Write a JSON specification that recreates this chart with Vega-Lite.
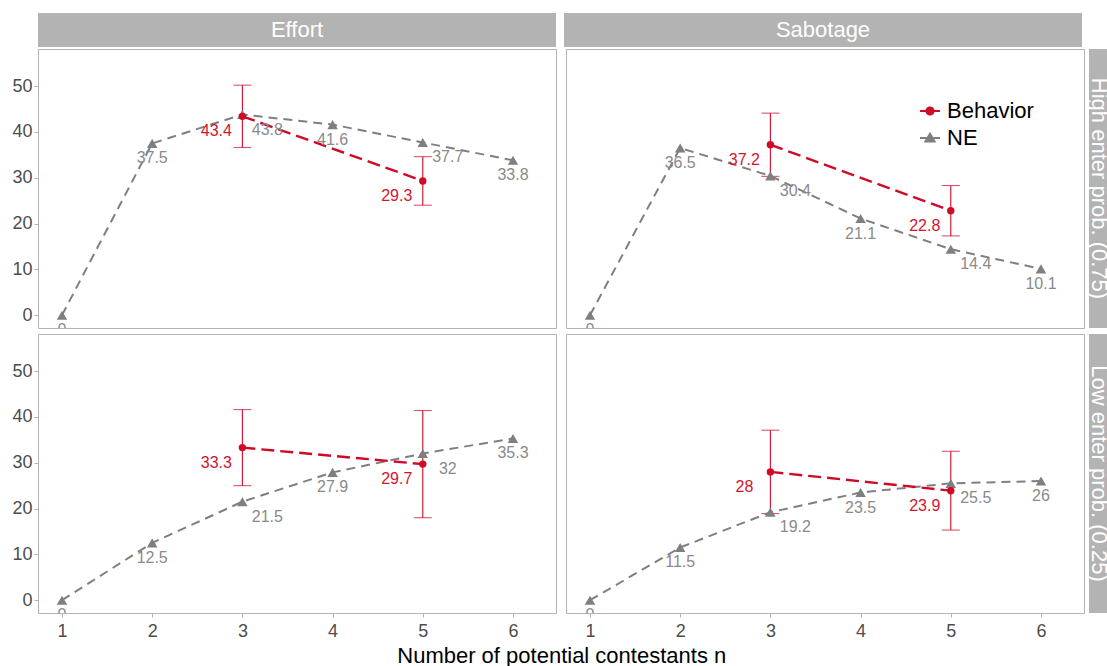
{
  "$schema": "https://vega.github.io/schema/vega-lite/v6.json",
  "padding": {"left": 11, "top": 13, "right": 0, "bottom": 0},
  "autosize": {"type": "pad"},
  "background": "white",
  "config": {
    "font": "Liberation Sans",
    "view": {"stroke": "#B3B3B3", "strokeWidth": 1},
    "axis": {"grid": false, "domain": false, "tickColor": "#B3B3B3", "tickSize": 4, "tickWidth": 1, "labelFont": "Liberation Sans", "labelFontSize": 18, "labelColor": "#4D4D4D", "labelPadding": 2},
    "axisX": {"labelPadding": 5}
  },
  "title": {"text": "Number of potential contestants n", "orient": "bottom", "anchor": "middle", "fontSize": 22, "fontWeight": "normal", "font": "Liberation Sans", "color": "black", "offset": 5},
  "datasets": {
    "pts": [
      {"stage": "Effort", "prob": "High", "series": "NE", "n": 1, "value": 0},
      {"stage": "Effort", "prob": "High", "series": "NE", "n": 2, "value": 37.5},
      {"stage": "Effort", "prob": "High", "series": "NE", "n": 3, "value": 43.8},
      {"stage": "Effort", "prob": "High", "series": "NE", "n": 4, "value": 41.6},
      {"stage": "Effort", "prob": "High", "series": "NE", "n": 5, "value": 37.7},
      {"stage": "Effort", "prob": "High", "series": "NE", "n": 6, "value": 33.8},
      {"stage": "Effort", "prob": "High", "series": "Behavior", "n": 3, "value": 43.4, "lo": 36.6, "hi": 50.2},
      {"stage": "Effort", "prob": "High", "series": "Behavior", "n": 5, "value": 29.3, "lo": 24.0, "hi": 34.6},
      {"stage": "Sabotage", "prob": "High", "series": "NE", "n": 1, "value": 0},
      {"stage": "Sabotage", "prob": "High", "series": "NE", "n": 2, "value": 36.5},
      {"stage": "Sabotage", "prob": "High", "series": "NE", "n": 3, "value": 30.4},
      {"stage": "Sabotage", "prob": "High", "series": "NE", "n": 4, "value": 21.1},
      {"stage": "Sabotage", "prob": "High", "series": "NE", "n": 5, "value": 14.4},
      {"stage": "Sabotage", "prob": "High", "series": "NE", "n": 6, "value": 10.1},
      {"stage": "Sabotage", "prob": "High", "series": "Behavior", "n": 3, "value": 37.2, "lo": 30.3, "hi": 44.1},
      {"stage": "Sabotage", "prob": "High", "series": "Behavior", "n": 5, "value": 22.8, "lo": 17.3, "hi": 28.3},
      {"stage": "Effort", "prob": "Low", "series": "NE", "n": 1, "value": 0},
      {"stage": "Effort", "prob": "Low", "series": "NE", "n": 2, "value": 12.5},
      {"stage": "Effort", "prob": "Low", "series": "NE", "n": 3, "value": 21.5},
      {"stage": "Effort", "prob": "Low", "series": "NE", "n": 4, "value": 27.9},
      {"stage": "Effort", "prob": "Low", "series": "NE", "n": 5, "value": 32},
      {"stage": "Effort", "prob": "Low", "series": "NE", "n": 6, "value": 35.3},
      {"stage": "Effort", "prob": "Low", "series": "Behavior", "n": 3, "value": 33.3, "lo": 25.0, "hi": 41.6},
      {"stage": "Effort", "prob": "Low", "series": "Behavior", "n": 5, "value": 29.7, "lo": 18.0, "hi": 41.4},
      {"stage": "Sabotage", "prob": "Low", "series": "NE", "n": 1, "value": 0},
      {"stage": "Sabotage", "prob": "Low", "series": "NE", "n": 2, "value": 11.5},
      {"stage": "Sabotage", "prob": "Low", "series": "NE", "n": 3, "value": 19.2},
      {"stage": "Sabotage", "prob": "Low", "series": "NE", "n": 4, "value": 23.5},
      {"stage": "Sabotage", "prob": "Low", "series": "NE", "n": 5, "value": 25.5},
      {"stage": "Sabotage", "prob": "Low", "series": "NE", "n": 6, "value": 26},
      {"stage": "Sabotage", "prob": "Low", "series": "Behavior", "n": 3, "value": 28, "lo": 18.9, "hi": 37.1},
      {"stage": "Sabotage", "prob": "Low", "series": "Behavior", "n": 5, "value": 23.9, "lo": 15.3, "hi": 32.5}
    ]
  },
  "data": {"name": "pts"},
  "spacing": 1,
  "vconcat": [
    {
      "spacing": 8,
      "hconcat": [
        {
          "width": 518, "height": 34,
          "view": {"fill": "#B3B3B3", "stroke": null},
          "layer": [
            {
              "data": {"values": [{"label": "Effort"}]},
              "mark": {"type": "text", "color": "white", "fontSize": 22, "font": "Liberation Sans", "align": "center", "baseline": "middle"},
              "encoding": {"text": {"field": "label", "type": "nominal"}}
            },
            {
              "data": {"values": []},
              "mark": {"type": "rule"},
              "encoding": {"y": {"field": "v", "type": "quantitative", "scale": {"domain": [0, 2]}, "title": null,
                "axis": {"values": [1], "labelExpr": "'50'", "labelColor": "transparent", "tickColor": "transparent"}}}
            }
          ]
        },
        {
          "width": 518, "height": 34,
          "view": {"fill": "#B3B3B3", "stroke": null},
          "data": {"values": [{"label": "Sabotage"}]},
          "mark": {"type": "text", "color": "white", "fontSize": 22, "font": "Liberation Sans", "align": "center", "baseline": "middle"},
          "encoding": {"text": {"field": "label", "type": "nominal"}}
        }
      ]
    },
    {
      "spacing": 4,
      "vconcat": [
        {
          "spacing": 2,
          "hconcat": [
            {
              "spacing": 8,
              "hconcat": [
                {
                  "width": 518, "height": 279,
                  "transform": [{"filter": "datum.stage == 'Effort' && datum.prob == 'High'"}],
                  "encoding": {"x": {"field": "n", "type": "quantitative", "scale": {"domain": [0.734, 6.477], "nice": false, "zero": false}, "axis": null, "title": null}},
                  "layer": [
                    {"transform": [{"filter": "datum.series == 'Behavior'"}], "mark": {"type": "rule", "color": "#CF0A26", "strokeWidth": 1.1},
                     "encoding": {"y": {"field": "lo", "type": "quantitative", "scale": {"domain": [-2.8, 58.1], "nice": false, "zero": false}, "axis": {"values": [0, 10, 20, 30, 40, 50]}, "title": null}, "y2": {"field": "hi"}}},
                    {"transform": [{"filter": "datum.series == 'Behavior'"}], "mark": {"type": "tick", "orient": "horizontal", "size": 18, "thickness": 1.1, "color": "#CF0A26"},
                     "encoding": {"y": {"field": "lo", "type": "quantitative", "scale": {"domain": [-2.8, 58.1], "nice": false, "zero": false}, "axis": {"values": [0, 10, 20, 30, 40, 50]}, "title": null}}},
                    {"transform": [{"filter": "datum.series == 'Behavior'"}], "mark": {"type": "tick", "orient": "horizontal", "size": 18, "thickness": 1.1, "color": "#CF0A26"},
                     "encoding": {"y": {"field": "hi", "type": "quantitative", "scale": {"domain": [-2.8, 58.1], "nice": false, "zero": false}, "axis": {"values": [0, 10, 20, 30, 40, 50]}, "title": null}}},
                    {"transform": [{"filter": "datum.series == 'NE'"}], "mark": {"type": "line", "color": "#7F7F7F", "strokeWidth": 2, "strokeDash": [9, 6]},
                     "encoding": {"y": {"field": "value", "type": "quantitative", "scale": {"domain": [-2.8, 58.1], "nice": false, "zero": false}, "axis": {"values": [0, 10, 20, 30, 40, 50]}, "title": null}}},
                    {"transform": [{"filter": "datum.series == 'NE'"}], "mark": {"type": "point", "shape": "triangle-up", "filled": true, "size": 110, "color": "#7F7F7F", "opacity": 1},
                     "encoding": {"y": {"field": "value", "type": "quantitative", "scale": {"domain": [-2.8, 58.1], "nice": false, "zero": false}, "axis": {"values": [0, 10, 20, 30, 40, 50]}, "title": null}}},
                    {"transform": [{"filter": "datum.series == 'Behavior'"}], "mark": {"type": "line", "color": "#CF0A26", "strokeWidth": 2.4, "strokeDash": [13, 6]},
                     "encoding": {"y": {"field": "value", "type": "quantitative", "scale": {"domain": [-2.8, 58.1], "nice": false, "zero": false}, "axis": {"values": [0, 10, 20, 30, 40, 50]}, "title": null}}},
                    {"transform": [{"filter": "datum.series == 'Behavior'"}], "mark": {"type": "point", "shape": "circle", "filled": true, "size": 55, "color": "#CF0A26", "opacity": 1},
                     "encoding": {"y": {"field": "value", "type": "quantitative", "scale": {"domain": [-2.8, 58.1], "nice": false, "zero": false}, "axis": {"values": [0, 10, 20, 30, 40, 50]}, "title": null}}},
                    {"transform": [{"filter": "datum.series == 'NE' && datum.n != 3 && datum.n != 5"}], "mark": {"type": "text", "color": "#8A8A8A", "fontSize": 16, "baseline": "middle", "dy": 15, "clip": true},
                     "encoding": {"y": {"field": "value", "type": "quantitative", "scale": {"domain": [-2.8, 58.1], "nice": false, "zero": false}, "axis": {"values": [0, 10, 20, 30, 40, 50]}, "title": null}, "text": {"field": "value", "type": "nominal"}}},
                    {"transform": [{"filter": "datum.series == 'NE' && (datum.n == 3 || datum.n == 5)"}], "mark": {"type": "text", "color": "#8A8A8A", "fontSize": 16, "baseline": "middle", "dy": 15, "dx": 25, "clip": true},
                     "encoding": {"y": {"field": "value", "type": "quantitative", "scale": {"domain": [-2.8, 58.1], "nice": false, "zero": false}, "axis": {"values": [0, 10, 20, 30, 40, 50]}, "title": null}, "text": {"field": "value", "type": "nominal"}}},
                    {"transform": [{"filter": "datum.series == 'Behavior'"}], "mark": {"type": "text", "color": "#D4142F", "fontSize": 16, "baseline": "middle", "dy": 15, "dx": -26, "clip": true},
                     "encoding": {"y": {"field": "value", "type": "quantitative", "scale": {"domain": [-2.8, 58.1], "nice": false, "zero": false}, "axis": {"values": [0, 10, 20, 30, 40, 50]}, "title": null}, "text": {"field": "value", "type": "nominal"}}}
                  ]
                },
                {
                  "width": 518, "height": 279,
                  "transform": [{"filter": "datum.stage == 'Sabotage' && datum.prob == 'High'"}],
                  "encoding": {"x": {"field": "n", "type": "quantitative", "scale": {"domain": [0.734, 6.477], "nice": false, "zero": false}, "axis": null, "title": null}},
                  "layer": [
                    {"transform": [{"filter": "datum.series == 'Behavior'"}], "mark": {"type": "rule", "color": "#CF0A26", "strokeWidth": 1.1},
                     "encoding": {"y": {"field": "lo", "type": "quantitative", "scale": {"domain": [-2.8, 58.1], "nice": false, "zero": false}, "axis": null, "title": null}, "y2": {"field": "hi"}}},
                    {"transform": [{"filter": "datum.series == 'Behavior'"}], "mark": {"type": "tick", "orient": "horizontal", "size": 18, "thickness": 1.1, "color": "#CF0A26"},
                     "encoding": {"y": {"field": "lo", "type": "quantitative", "scale": {"domain": [-2.8, 58.1], "nice": false, "zero": false}, "axis": null, "title": null}}},
                    {"transform": [{"filter": "datum.series == 'Behavior'"}], "mark": {"type": "tick", "orient": "horizontal", "size": 18, "thickness": 1.1, "color": "#CF0A26"},
                     "encoding": {"y": {"field": "hi", "type": "quantitative", "scale": {"domain": [-2.8, 58.1], "nice": false, "zero": false}, "axis": null, "title": null}}},
                    {"transform": [{"filter": "datum.series == 'NE'"}], "mark": {"type": "line", "color": "#7F7F7F", "strokeWidth": 2, "strokeDash": [9, 6]},
                     "encoding": {"y": {"field": "value", "type": "quantitative", "scale": {"domain": [-2.8, 58.1], "nice": false, "zero": false}, "axis": null, "title": null}}},
                    {"transform": [{"filter": "datum.series == 'NE'"}], "mark": {"type": "point", "shape": "triangle-up", "filled": true, "size": 110, "color": "#7F7F7F", "opacity": 1},
                     "encoding": {"y": {"field": "value", "type": "quantitative", "scale": {"domain": [-2.8, 58.1], "nice": false, "zero": false}, "axis": null, "title": null}}},
                    {"transform": [{"filter": "datum.series == 'Behavior'"}], "mark": {"type": "line", "color": "#CF0A26", "strokeWidth": 2.4, "strokeDash": [13, 6]},
                     "encoding": {"y": {"field": "value", "type": "quantitative", "scale": {"domain": [-2.8, 58.1], "nice": false, "zero": false}, "axis": null, "title": null}}},
                    {"transform": [{"filter": "datum.series == 'Behavior'"}], "mark": {"type": "point", "shape": "circle", "filled": true, "size": 55, "color": "#CF0A26", "opacity": 1},
                     "encoding": {"y": {"field": "value", "type": "quantitative", "scale": {"domain": [-2.8, 58.1], "nice": false, "zero": false}, "axis": null, "title": null}}},
                    {"transform": [{"filter": "datum.series == 'NE' && datum.n != 3 && datum.n != 5"}], "mark": {"type": "text", "color": "#8A8A8A", "fontSize": 16, "baseline": "middle", "dy": 15, "clip": true},
                     "encoding": {"y": {"field": "value", "type": "quantitative", "scale": {"domain": [-2.8, 58.1], "nice": false, "zero": false}, "axis": null, "title": null}, "text": {"field": "value", "type": "nominal"}}},
                    {"transform": [{"filter": "datum.series == 'NE' && (datum.n == 3 || datum.n == 5)"}], "mark": {"type": "text", "color": "#8A8A8A", "fontSize": 16, "baseline": "middle", "dy": 15, "dx": 25, "clip": true},
                     "encoding": {"y": {"field": "value", "type": "quantitative", "scale": {"domain": [-2.8, 58.1], "nice": false, "zero": false}, "axis": null, "title": null}, "text": {"field": "value", "type": "nominal"}}},
                    {"transform": [{"filter": "datum.series == 'Behavior'"}], "mark": {"type": "text", "color": "#D4142F", "fontSize": 16, "baseline": "middle", "dy": 15, "dx": -26, "clip": true},
                     "encoding": {"y": {"field": "value", "type": "quantitative", "scale": {"domain": [-2.8, 58.1], "nice": false, "zero": false}, "axis": null, "title": null}, "text": {"field": "value", "type": "nominal"}}},
                    {"transform": [{"filter": "false"}], "mark": {"type": "point", "filled": true, "size": 400, "strokeWidth": 2, "opacity": 1},
                     "encoding": {
                       "y": {"field": "value", "type": "quantitative", "scale": {"domain": [-2.8, 58.1], "nice": false, "zero": false}, "axis": null, "title": null},
                       "fill": {"field": "series", "type": "nominal", "scale": {"domain": ["Behavior", "NE"], "range": ["#CF0A26", "#7F7F7F"]},
                                "legend": {"title": null, "orient": "none", "legendX": 881, "legendY": 87, "labelFontSize": 22, "labelColor": "black", "labelFont": "Liberation Sans", "symbolSize": 400, "symbolStrokeWidth": 2, "rowPadding": 5, "labelOffset": 6, "padding": 0}},
                       "stroke": {"field": "series", "type": "nominal", "scale": {"domain": ["Behavior", "NE"], "range": ["#CF0A26", "#7F7F7F"]},
                                "legend": {"title": null, "orient": "none", "legendX": 881, "legendY": 87, "labelFontSize": 22, "labelColor": "black", "labelFont": "Liberation Sans", "symbolSize": 400, "symbolStrokeWidth": 2, "rowPadding": 5, "labelOffset": 6, "padding": 0}},
                       "shape": {"field": "series", "type": "nominal", "scale": {"domain": ["Behavior", "NE"], "range": ["M-1,0L1,0M-0.36,0A0.36,0.36,0,1,1,0.36,0A0.36,0.36,0,1,1,-0.36,0Z", "M-1,0L1,0M0,-0.42L0.46,0.36L-0.46,0.36Z"]},
                                "legend": {"title": null, "orient": "none", "legendX": 881, "legendY": 87, "labelFontSize": 22, "labelColor": "black", "labelFont": "Liberation Sans", "symbolSize": 400, "symbolStrokeWidth": 2, "rowPadding": 5, "labelOffset": 6, "padding": 0}}
                     }}
                  ]
                }
              ]
            },
            {
              "width": 23, "height": 279,
              "view": {"fill": "#B3B3B3", "stroke": null},
              "data": {"values": [{"label": "High enter prob. (0.75)"}]},
              "mark": {"type": "text", "color": "white", "fontSize": 22, "font": "Liberation Sans", "align": "center", "baseline": "middle", "angle": 90, "dy": 2},
              "encoding": {"text": {"field": "label", "type": "nominal"}}
            }
          ]
        },
        {
          "spacing": 2,
          "hconcat": [
            {
              "spacing": 8,
              "hconcat": [
                {
                  "width": 518, "height": 279,
                  "transform": [{"filter": "datum.stage == 'Effort' && datum.prob == 'Low'"}],
                  "encoding": {"x": {"field": "n", "type": "quantitative", "scale": {"domain": [0.734, 6.477], "nice": false, "zero": false}, "axis": {"values": [1, 2, 3, 4, 5, 6]}, "title": null}},
                  "layer": [
                    {"transform": [{"filter": "datum.series == 'Behavior'"}], "mark": {"type": "rule", "color": "#CF0A26", "strokeWidth": 1.1},
                     "encoding": {"y": {"field": "lo", "type": "quantitative", "scale": {"domain": [-2.8, 58.1], "nice": false, "zero": false}, "axis": {"values": [0, 10, 20, 30, 40, 50]}, "title": null}, "y2": {"field": "hi"}}},
                    {"transform": [{"filter": "datum.series == 'Behavior'"}], "mark": {"type": "tick", "orient": "horizontal", "size": 18, "thickness": 1.1, "color": "#CF0A26"},
                     "encoding": {"y": {"field": "lo", "type": "quantitative", "scale": {"domain": [-2.8, 58.1], "nice": false, "zero": false}, "axis": {"values": [0, 10, 20, 30, 40, 50]}, "title": null}}},
                    {"transform": [{"filter": "datum.series == 'Behavior'"}], "mark": {"type": "tick", "orient": "horizontal", "size": 18, "thickness": 1.1, "color": "#CF0A26"},
                     "encoding": {"y": {"field": "hi", "type": "quantitative", "scale": {"domain": [-2.8, 58.1], "nice": false, "zero": false}, "axis": {"values": [0, 10, 20, 30, 40, 50]}, "title": null}}},
                    {"transform": [{"filter": "datum.series == 'NE'"}], "mark": {"type": "line", "color": "#7F7F7F", "strokeWidth": 2, "strokeDash": [9, 6]},
                     "encoding": {"y": {"field": "value", "type": "quantitative", "scale": {"domain": [-2.8, 58.1], "nice": false, "zero": false}, "axis": {"values": [0, 10, 20, 30, 40, 50]}, "title": null}}},
                    {"transform": [{"filter": "datum.series == 'NE'"}], "mark": {"type": "point", "shape": "triangle-up", "filled": true, "size": 110, "color": "#7F7F7F", "opacity": 1},
                     "encoding": {"y": {"field": "value", "type": "quantitative", "scale": {"domain": [-2.8, 58.1], "nice": false, "zero": false}, "axis": {"values": [0, 10, 20, 30, 40, 50]}, "title": null}}},
                    {"transform": [{"filter": "datum.series == 'Behavior'"}], "mark": {"type": "line", "color": "#CF0A26", "strokeWidth": 2.4, "strokeDash": [13, 6]},
                     "encoding": {"y": {"field": "value", "type": "quantitative", "scale": {"domain": [-2.8, 58.1], "nice": false, "zero": false}, "axis": {"values": [0, 10, 20, 30, 40, 50]}, "title": null}}},
                    {"transform": [{"filter": "datum.series == 'Behavior'"}], "mark": {"type": "point", "shape": "circle", "filled": true, "size": 55, "color": "#CF0A26", "opacity": 1},
                     "encoding": {"y": {"field": "value", "type": "quantitative", "scale": {"domain": [-2.8, 58.1], "nice": false, "zero": false}, "axis": {"values": [0, 10, 20, 30, 40, 50]}, "title": null}}},
                    {"transform": [{"filter": "datum.series == 'NE' && datum.n != 3 && datum.n != 5"}], "mark": {"type": "text", "color": "#8A8A8A", "fontSize": 16, "baseline": "middle", "dy": 15, "clip": true},
                     "encoding": {"y": {"field": "value", "type": "quantitative", "scale": {"domain": [-2.8, 58.1], "nice": false, "zero": false}, "axis": {"values": [0, 10, 20, 30, 40, 50]}, "title": null}, "text": {"field": "value", "type": "nominal"}}},
                    {"transform": [{"filter": "datum.series == 'NE' && (datum.n == 3 || datum.n == 5)"}], "mark": {"type": "text", "color": "#8A8A8A", "fontSize": 16, "baseline": "middle", "dy": 15, "dx": 25, "clip": true},
                     "encoding": {"y": {"field": "value", "type": "quantitative", "scale": {"domain": [-2.8, 58.1], "nice": false, "zero": false}, "axis": {"values": [0, 10, 20, 30, 40, 50]}, "title": null}, "text": {"field": "value", "type": "nominal"}}},
                    {"transform": [{"filter": "datum.series == 'Behavior'"}], "mark": {"type": "text", "color": "#D4142F", "fontSize": 16, "baseline": "middle", "dy": 15, "dx": -26, "clip": true},
                     "encoding": {"y": {"field": "value", "type": "quantitative", "scale": {"domain": [-2.8, 58.1], "nice": false, "zero": false}, "axis": {"values": [0, 10, 20, 30, 40, 50]}, "title": null}, "text": {"field": "value", "type": "nominal"}}}
                  ]
                },
                {
                  "width": 518, "height": 279,
                  "transform": [{"filter": "datum.stage == 'Sabotage' && datum.prob == 'Low'"}],
                  "encoding": {"x": {"field": "n", "type": "quantitative", "scale": {"domain": [0.734, 6.477], "nice": false, "zero": false}, "axis": {"values": [1, 2, 3, 4, 5, 6]}, "title": null}},
                  "layer": [
                    {"transform": [{"filter": "datum.series == 'Behavior'"}], "mark": {"type": "rule", "color": "#CF0A26", "strokeWidth": 1.1},
                     "encoding": {"y": {"field": "lo", "type": "quantitative", "scale": {"domain": [-2.8, 58.1], "nice": false, "zero": false}, "axis": null, "title": null}, "y2": {"field": "hi"}}},
                    {"transform": [{"filter": "datum.series == 'Behavior'"}], "mark": {"type": "tick", "orient": "horizontal", "size": 18, "thickness": 1.1, "color": "#CF0A26"},
                     "encoding": {"y": {"field": "lo", "type": "quantitative", "scale": {"domain": [-2.8, 58.1], "nice": false, "zero": false}, "axis": null, "title": null}}},
                    {"transform": [{"filter": "datum.series == 'Behavior'"}], "mark": {"type": "tick", "orient": "horizontal", "size": 18, "thickness": 1.1, "color": "#CF0A26"},
                     "encoding": {"y": {"field": "hi", "type": "quantitative", "scale": {"domain": [-2.8, 58.1], "nice": false, "zero": false}, "axis": null, "title": null}}},
                    {"transform": [{"filter": "datum.series == 'NE'"}], "mark": {"type": "line", "color": "#7F7F7F", "strokeWidth": 2, "strokeDash": [9, 6]},
                     "encoding": {"y": {"field": "value", "type": "quantitative", "scale": {"domain": [-2.8, 58.1], "nice": false, "zero": false}, "axis": null, "title": null}}},
                    {"transform": [{"filter": "datum.series == 'NE'"}], "mark": {"type": "point", "shape": "triangle-up", "filled": true, "size": 110, "color": "#7F7F7F", "opacity": 1},
                     "encoding": {"y": {"field": "value", "type": "quantitative", "scale": {"domain": [-2.8, 58.1], "nice": false, "zero": false}, "axis": null, "title": null}}},
                    {"transform": [{"filter": "datum.series == 'Behavior'"}], "mark": {"type": "line", "color": "#CF0A26", "strokeWidth": 2.4, "strokeDash": [13, 6]},
                     "encoding": {"y": {"field": "value", "type": "quantitative", "scale": {"domain": [-2.8, 58.1], "nice": false, "zero": false}, "axis": null, "title": null}}},
                    {"transform": [{"filter": "datum.series == 'Behavior'"}], "mark": {"type": "point", "shape": "circle", "filled": true, "size": 55, "color": "#CF0A26", "opacity": 1},
                     "encoding": {"y": {"field": "value", "type": "quantitative", "scale": {"domain": [-2.8, 58.1], "nice": false, "zero": false}, "axis": null, "title": null}}},
                    {"transform": [{"filter": "datum.series == 'NE' && datum.n != 3 && datum.n != 5"}], "mark": {"type": "text", "color": "#8A8A8A", "fontSize": 16, "baseline": "middle", "dy": 15, "clip": true},
                     "encoding": {"y": {"field": "value", "type": "quantitative", "scale": {"domain": [-2.8, 58.1], "nice": false, "zero": false}, "axis": null, "title": null}, "text": {"field": "value", "type": "nominal"}}},
                    {"transform": [{"filter": "datum.series == 'NE' && (datum.n == 3 || datum.n == 5)"}], "mark": {"type": "text", "color": "#8A8A8A", "fontSize": 16, "baseline": "middle", "dy": 15, "dx": 25, "clip": true},
                     "encoding": {"y": {"field": "value", "type": "quantitative", "scale": {"domain": [-2.8, 58.1], "nice": false, "zero": false}, "axis": null, "title": null}, "text": {"field": "value", "type": "nominal"}}},
                    {"transform": [{"filter": "datum.series == 'Behavior'"}], "mark": {"type": "text", "color": "#D4142F", "fontSize": 16, "baseline": "middle", "dy": 15, "dx": -26, "clip": true},
                     "encoding": {"y": {"field": "value", "type": "quantitative", "scale": {"domain": [-2.8, 58.1], "nice": false, "zero": false}, "axis": null, "title": null}, "text": {"field": "value", "type": "nominal"}}}
                  ]
                }
              ]
            },
            {
              "width": 23, "height": 279,
              "view": {"fill": "#B3B3B3", "stroke": null},
              "data": {"values": [{"label": "Low enter prob. (0.25)"}]},
              "mark": {"type": "text", "color": "white", "fontSize": 22, "font": "Liberation Sans", "align": "center", "baseline": "middle", "angle": 90, "dy": 2},
              "encoding": {"text": {"field": "label", "type": "nominal"}}
            }
          ]
        }
      ]
    }
  ]
}
